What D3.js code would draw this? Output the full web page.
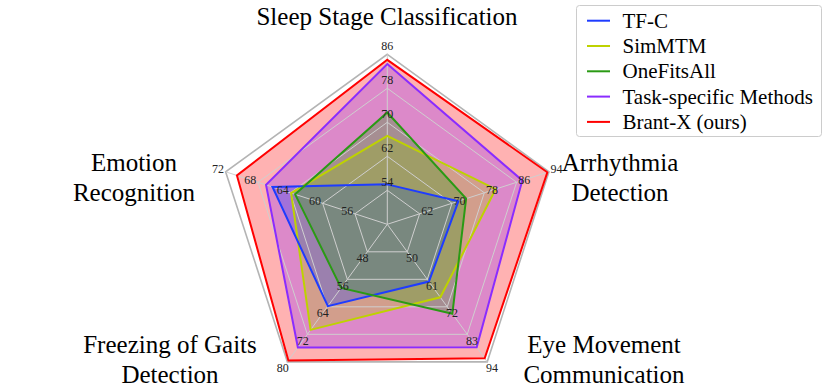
<!DOCTYPE html>
<html>
<head>
<meta charset="utf-8">
<script src="https://cdn.jsdelivr.net/npm/d3@7"></script>
<style>
  body { margin: 0; background: #fff; }
</style>
</head>
<body>
<svg id="chart" width="830" height="389"></svg>
<script>
// axes, clockwise from the top
const categories = ["Sleep Stage Classification", "Arrhythmia Detection", "Eye Movement Communication", "Freezing of Gaits Detection", "Emotion Recognition"]
const axisMin = [46, 54, 39, 40, 52]
const tickLabels = [
    [54, 62, 70, 78, 86],
    [62, 70, 78, 86, 94],
    [50, 61, 72, 83, 94],
    [48, 56, 64, 72, 80],
    [56, 60, 64, 68, 72]
]

const seriesNames = ["TF-C", "SimMTM", "OneFitsAll", "Task-specific Methods", "Brant-X (ours)"]
const tfc = [55.4, 71.6, 61.9, 63.8, 66.2]
const simmtm = [66.8, 80.8, 68.2, 70.7, 63.9]
const oneFitsAll = [72.3, 73.5, 74.8, 58.5, 63.4]
const taskSpecific = [83.7, 87.4, 88.2, 75.8, 67.0]
const brantX = [84.7, 93.6, 92.6, 79.6, 70.6]

const seriesValues = [tfc, simmtm, oneFitsAll, taskSpecific, brantX]
const colors = ["#1e3cff", "#bed200", "#2a9a14", "#8a2cff", "#ff0000"]
// stacking of the translucent fills: red, purple, yellow, blue, green on top
const fillOrder = [4, 3, 1, 0, 2]

const FONT = "Liberation Serif, DejaVu Serif, Noto Serif, serif"

const svg = d3.select("#chart")
const cx = 387.3, cy = 224.3, R = 170

const angle = i => -Math.PI / 2 + i * 2 * Math.PI / 5
const scales = axisMin.map((m, i) => d3.scaleLinear().domain([m, tickLabels[i][4]]).range([0, R]))
const pt = (i, r) => [cx + r * Math.cos(angle(i)), cy + r * Math.sin(angle(i))]

const line = d3.line().curve(d3.curveLinearClosed)

// fills
const fillG = svg.append("g")
fillOrder.forEach(s => {
    fillG.append("path")
    .attr("d", line(seriesValues[s].map((v, i) => pt(i, scales[i](v)))))
    .attr("fill", colors[s])
    .attr("fill-opacity", 0.3)
    .attr("stroke", "none")
})

// grid
const gridG = svg.append("g")
d3.range(1, 6).forEach(k => {
    gridG.append("path")
    .attr("d", line(d3.range(5).map(i => pt(i, R * k / 5))))
    .attr("fill", "none")
    .attr("stroke", k === 5 ? "#b4b4b4" : "#cfcfcf")
    .attr("stroke-width", k === 5 ? 1.6 : 1)
})
d3.range(5).forEach(i => {
    const [x, y] = pt(i, R)
    gridG.append("line")
    .attr("x1", cx).attr("y1", cy).attr("x2", x).attr("y2", y)
    .attr("stroke", "#cfcfcf")
    .attr("stroke-width", 1)
})

// outlines
const lineG = svg.append("g")
fillOrder.forEach(s => {
    lineG.append("path")
    .attr("d", line(seriesValues[s].map((v, i) => pt(i, scales[i](v)))))
    .attr("fill", "none")
    .attr("stroke", colors[s])
    .attr("stroke-width", 2)
})

// tick labels sit a little outside each ring vertex
const tickG = svg.append("g")
tickLabels.forEach((ticks, i) => {
    ticks.forEach(t => {
        const [x, y] = pt(i, scales[i](t) + 8)
        tickG.append("text")
        .attr("x", x).attr("y", y)
        .attr("text-anchor", "middle")
        .attr("dominant-baseline", "central")
        .attr("font-family", FONT)
        .attr("font-size", 12)
        .attr("fill", "#222")
        .text(t)
    })
})

// category labels (two lines except the top one)
const labelLines = [
    ["Sleep Stage Classification"],
    ["Arrhythmia", "Detection"],
    ["Eye Movement", "Communication"],
    ["Freezing of Gaits", "Detection"],
    ["Emotion", "Recognition"]
]
const labelPos = [[387, 25], [620, 171], [604, 353], [170, 353], [134, 171]]
const labelG = svg.append("g")
labelLines.forEach((lines, i) => {
    const txt = labelG.append("text")
    .attr("x", labelPos[i][0]).attr("y", labelPos[i][1])
    .attr("text-anchor", "middle")
    .attr("font-family", FONT)
    .attr("font-size", 25)
    .attr("fill", "#000")
    lines.forEach((l, j) => {
        txt.append("tspan")
        .attr("x", labelPos[i][0])
        .attr("dy", j === 0 ? 0 : 29.5)
        .text(l)
    })
})

// legend
const legend = svg.append("g")
legend.append("rect")
.attr("x", 576.5).attr("y", 5.5)
.attr("width", 245).attr("height", 131)
.attr("rx", 3)
.attr("fill", "#fff").attr("fill-opacity", 0.8)
.attr("stroke", "#cccccc")
seriesNames.forEach((name, s) => {
    const y = 20.7 + s * 25.3
    legend.append("line")
    .attr("x1", 587).attr("x2", 610).attr("y1", y).attr("y2", y)
    .attr("stroke", colors[s]).attr("stroke-width", 2)
    legend.append("text")
    .attr("x", 622.5).attr("y", y)
    .attr("dominant-baseline", "central")
    .attr("font-family", FONT)
    .attr("font-size", 21)
    .text(name)
})
</script>
</body>
</html>
